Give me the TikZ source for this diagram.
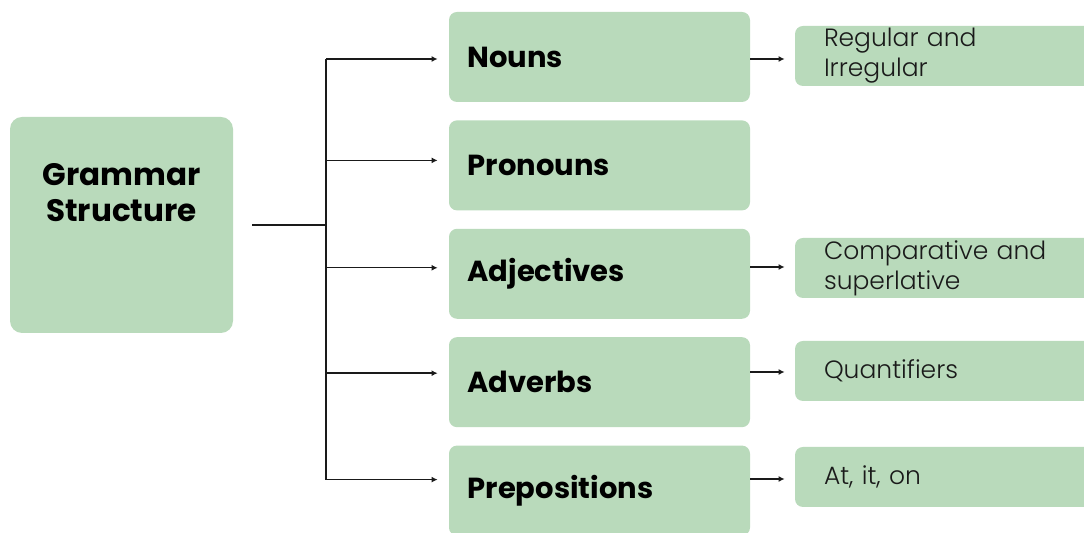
\documentclass[tikz,border=0pt]{standalone}
\usepackage{fontspec}
\setmainfont{Poppins}
\newfontfamily\thinfont{Poppins Light}
\usetikzlibrary{arrows.meta,positioning,calc}
\definecolor{Sage}{HTML}{B9DABB}
\definecolor{Ink}{HTML}{1A1A1A}
\tikzset{
  rootbox/.style={fill=Sage,rounded corners=6pt,minimum width=111.5pt,
              minimum height=108pt,inner sep=0pt},
  catbox/.style={fill=Sage,rounded corners=4pt,minimum width=150.5pt,minimum height=45pt,
              text width=132pt,inner sep=0pt,align=left,font=\bfseries\fontsize{14.5}{17}\selectfont},
  subbox/.style={fill=Sage,rounded corners=4pt,minimum width=150pt,minimum height=30pt,
              text width=121pt,inner sep=0pt,align=left,text=Ink,
              font=\thinfont\fontsize{12.5}{15}\selectfont},
  link/.style={-{Latex[length=3pt,width=3pt]},line width=0.7pt,draw=Ink},
  trunk/.style={line width=0.7pt,draw=Ink}
}
\begin{document}
\begin{tikzpicture}[x=0.5pt,y=-0.5pt,node distance=8.8pt]
  \useasboundingbox (0,0) rectangle (1084,533);
  \node[rootbox,label={[font=\bfseries\fontsize{15.5}{18}\selectfont,align=center,
        anchor=center,yshift=-38pt]north:Grammar\\Structure}] (root) at (121.5,225) {};
  \node[catbox] (nouns) at (599.5,57) {Nouns};
  \node[catbox,below=of nouns] (pronouns) {Pronouns};
  \node[catbox,below=of pronouns] (adjectives) {Adjectives};
  \node[catbox,below=of adjectives] (adverbs) {Adverbs};
  \node[catbox,below=of adverbs] (preps) {Prepositions};
  \node[subbox] (regular) at (945,56) {Regular and\\Irregular};
  \node[subbox] (comparative) at (945,268) {Comparative and\\superlative};
  \node[subbox] (quantifiers) at (945,371) {Quantifiers};
  \node[subbox] (atiton) at (945,477) {At, it, on};
  \coordinate (hub) at (326,225);
  \draw[trunk,shorten <=9.5pt] (root.east) -- (hub);
  \draw[trunk] ($(hub |- nouns.west)+(0,2)$) -- ($(hub |- preps.west)+(0,-11)$);
  \foreach \c/\dy in {nouns/2,pronouns/-5,adjectives/-6,adverbs/-9,preps/-11}
    \draw[link,shorten >=5.5pt] ($(hub |- \c.west)+(0,\dy)$) -- ($(\c.west)+(0,\dy)$);
  % side arrows to the detail boxes
  \foreach \a/\b/\dy in {nouns/regular/3,adjectives/comparative/-1,adverbs/quantifiers/1,preps/atiton/2}
    \draw[link,shorten >=5pt] ($(\a.east |- \b.west)+(0,\dy)$) -- ($(\b.west)+(0,\dy)$);
\end{tikzpicture}
\end{document}
